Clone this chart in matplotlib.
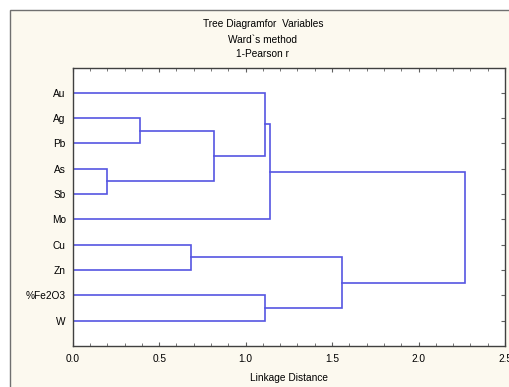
import matplotlib
matplotlib.use("Agg")
import matplotlib.pyplot as plt
from matplotlib.patches import Rectangle
from matplotlib.ticker import MultipleLocator

# variables (leaf order, top to bottom)
variables = ["Au", "Ag", "Pb", "As", "Sb", "Mo", "Cu", "Zn", "%Fe2O3", "W"]

# merges: (cluster a, cluster b, linkage distance); new clusters get ids 10, 11, ...
merges = [
    (3, 4, 0.20),    # As-Sb       -> 10
    (1, 2, 0.39),    # Ag-Pb       -> 11
    (6, 7, 0.685),   # Cu-Zn       -> 12
    (11, 10, 0.817), # AgPb-AsSb   -> 13
    (0, 13, 1.113),  # Au + 13     -> 14
    (8, 9, 1.11),    # Fe2O3-W     -> 15
    (14, 5, 1.14),   # + Mo        -> 16
    (12, 15, 1.56),  # CuZn-FeW    -> 17
    (16, 17, 2.27),  # all         -> 18
]

plt.rcParams['font.family'] = ['Liberation Sans', 'DejaVu Sans']
fs = 7.3

fig = plt.figure(figsize=(5.10, 3.87), dpi=100)
fig.patch.set_facecolor("white")

# cream panel with grey frame
fig.patches.append(Rectangle((10 / 510, -0.1), 1.2, 1 - 10 / 387 + 0.1,
                             transform=fig.transFigure, facecolor="#fcf9ef",
                             edgecolor="#707070", linewidth=1.0, zorder=-5))

ax = fig.add_axes([72.7 / 510, 1 - 346 / 387, (505 - 72.7) / 510, (346 - 67.5) / 387])
ax.set_zorder(2)
ax.set_facecolor("white")

col = "#5555e2"
pos = {i: (0.0, i + 1) for i in range(len(variables))}
nid = len(variables)
for a, b, h in merges:
    xa, ya = pos[a]
    xb, yb = pos[b]
    ax.plot([xa, h, h, xb], [ya, ya, yb, yb], color=col, lw=1.2, solid_joinstyle="miter")
    pos[nid] = (h, (ya + yb) / 2)
    nid += 1

ax.set_xlim(0, 2.5)
ax.set_ylim(11, 0)
ax.set_yticks(range(1, len(variables) + 1))
ax.set_yticklabels(variables)
ax.xaxis.set_major_locator(MultipleLocator(0.5))
ax.xaxis.set_minor_locator(MultipleLocator(0.1))
ax.xaxis.set_major_formatter(matplotlib.ticker.FormatStrFormatter("%.1f"))
ax.tick_params(axis="x", which="both", direction="in", top=True, labelsize=fs,
               color="#606060", pad=6)
ax.tick_params(axis="x", which="major", length=3)
ax.tick_params(axis="x", which="minor", length=2)
ax.tick_params(axis="y", direction="in", left=False, right=True, labelsize=fs,
               length=3, color="#606060", pad=5)
for s in ax.spines.values():
    s.set_color("#404040")
    s.set_linewidth(1.0)

ax.set_xlabel("Linkage Distance", fontsize=fs, labelpad=6)

fig.text(263 / 510, 1 - 24 / 387, "Tree Diagramfor  Variables", ha="center", va="center", fontsize=fs)
fig.text(263 / 510, 1 - 40 / 387, "Ward`s method", ha="center", va="center", fontsize=fs)
fig.text(263 / 510, 1 - 54 / 387, "1-Pearson r", ha="center", va="center", fontsize=fs)

fig.savefig("out.png", dpi=100)
